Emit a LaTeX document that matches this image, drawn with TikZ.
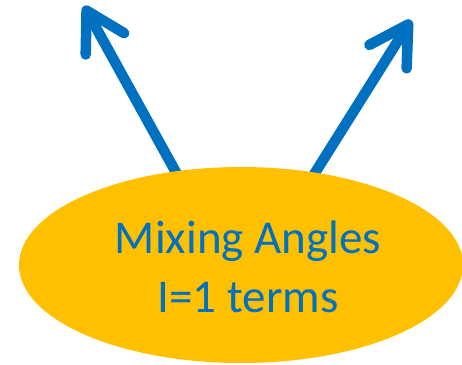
\documentclass[tikz,border=0pt]{standalone}
\usepackage{fontspec}
\setmainfont{Carlito}
\usetikzlibrary{arrows.meta,shapes.geometric}
\definecolor{gold}{HTML}{FFC000}
\definecolor{pblue}{HTML}{0070C0}
\tikzset{
  bigarrow/.style={draw=pblue, line width=10.5pt, -{Straight Barb[length=38pt,width=44pt,round]}},
  blob/.style={ellipse, fill=gold, draw=none, minimum width=444pt, minimum height=196pt, inner sep=0pt},
  label/.style={text=pblue, font=\fontsize{47pt}{59pt}\selectfont, align=center, inner sep=0pt}
}
\begin{document}
\begin{tikzpicture}[x=1pt,y=-1pt]
\useasboundingbox (0,0) rectangle (462,364);
\coordinate (tl) at (84,6);
\coordinate (tr) at (411,20);
\coordinate (bl) at (178,176);
\coordinate (br) at (313,176);
\draw[bigarrow] (bl) -- (tl);
\draw[bigarrow] (br) -- (tr);
\node[blob] (e) at (241,265) {};
\node[label, anchor=base] (t1) at (248,253) {Mixing Angles};
\node[label, anchor=base] (t2) at (248,312) {I=1 terms};
\end{tikzpicture}
\end{document}
